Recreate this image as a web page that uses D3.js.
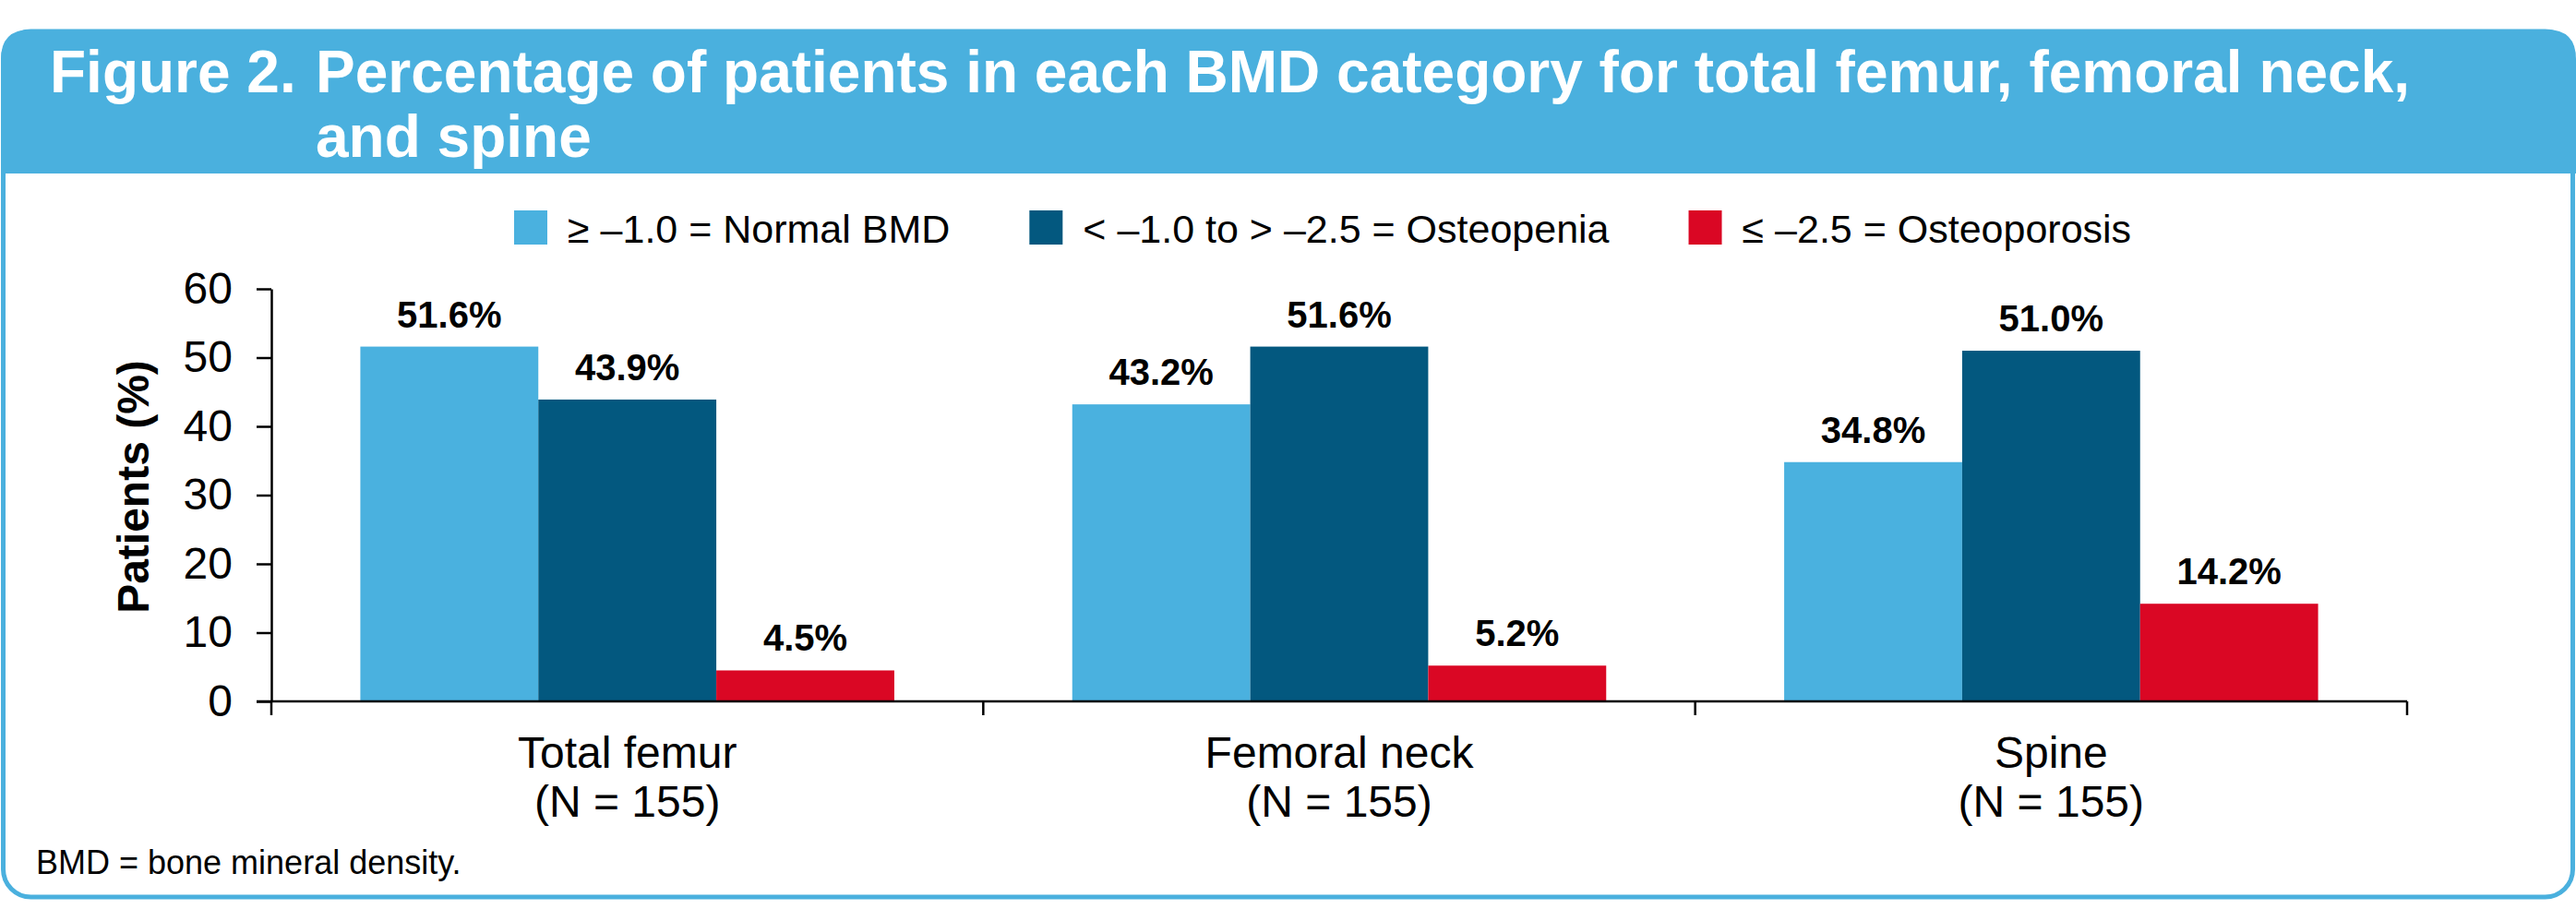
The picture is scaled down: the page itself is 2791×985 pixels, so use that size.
<!DOCTYPE html>
<html>
<head>
<meta charset="utf-8">
<script src="https://cdn.jsdelivr.net/npm/d3@7"></script>
<style>
  html, body { margin: 0; padding: 0; background: #fff; }
  svg { display: block; font-family: "Liberation Sans", Arial, sans-serif; }
</style>
</head>
<body>
<div id="chart"></div>
<script>
// Figure 2 — BMD category by site, grouped bars.
var titleLead = 'Figure 2.';
var titleLines = ['Percentage of patients in each BMD category for total femur, femoral neck,', 'and spine'];
var footnote = 'BMD = bone mineral density.';
var yTitle = 'Patients (%)';

var categories = ['Total femur', 'Femoral neck', 'Spine'];
var categoryN = ['(N = 155)', '(N = 155)', '(N = 155)'];
var seriesNames = ['\u2265 \u20131.0 = Normal BMD', '< \u20131.0 to > \u20132.5 = Osteopenia', '\u2264 \u20132.5 = Osteoporosis'];
var seriesColors = ['#4ab1df', '#03587f', '#da0724'];
var normalBMD = [51.6, 43.2, 34.8];
var osteopenia = [43.9, 51.6, 51.0];
var osteoporosis = [4.5, 5.2, 14.2];
var yTicks = [0, 10, 20, 30, 40, 50, 60];

(function () {
  var W = 2791, H = 985;
  var BLUE = '#4ab0de';
  var svg = d3.select('#chart').append('svg').attr('width', W).attr('height', H);

  // panel frame + header band
  svg.append('rect')
    .attr('x', 3.5).attr('y', 34).attr('width', W - 7).attr('height', 938)
    .attr('rx', 30).attr('ry', 30)
    .attr('fill', '#fff').attr('stroke', BLUE).attr('stroke-width', 5);
  var hx0 = 1, hx1 = W, hy0 = 32, hy1 = 188, r = 32;
  svg.append('path')
    .attr('d', 'M' + hx0 + ',' + hy1 + 'V' + (hy0 + r) +
      'Q' + hx0 + ',' + hy0 + ' ' + (hx0 + r) + ',' + hy0 +
      'H' + (hx1 - r) + 'Q' + hx1 + ',' + hy0 + ' ' + hx1 + ',' + (hy0 + r) +
      'V' + hy1 + 'Z')
    .attr('fill', BLUE);

  var title = svg.append('g').attr('fill', '#fff')
    .attr('font-size', 64).attr('font-weight', 'bold');
  title.append('text').attr('x', 54).attr('y', 100).text(titleLead);
  var rest = title.append('text').attr('x', 342).attr('y', 100);
  titleLines.forEach(function (t, i) {
    rest.append('tspan').attr('x', 342).attr('y', 100 + i * 70).text(t);
  });

  // plot area
  var left = 294, right = 2608, top = 313, bottom = 760;
  var series = [normalBMD, osteopenia, osteoporosis];

  var x0 = d3.scaleBand().domain(categories).range([left, right]).padding(0);
  var x1 = d3.scaleBand().domain(d3.range(series.length))
    .range([0, x0.bandwidth()]).paddingInner(0).paddingOuter(0.5);
  var y = d3.scaleLinear().domain([0, 60]).range([bottom, top]);

  // legend
  var legend = svg.append('g').attr('font-size', 43).attr('fill', '#000');
  var lx = 557;
  seriesNames.forEach(function (name, i) {
    legend.append('rect').attr('x', lx).attr('y', 228).attr('width', 36).attr('height', 37)
      .attr('fill', seriesColors[i]);
    var t = legend.append('text').attr('x', lx + 58).attr('y', 263).text(name);
    lx += 58 + t.node().getComputedTextLength() + 86;
  });

  // bars
  var groups = svg.append('g').selectAll('g').data(categories).enter().append('g')
    .attr('transform', function (c) { return 'translate(' + x0(c) + ',0)'; });
  groups.selectAll('rect')
    .data(function (c, ci) { return series.map(function (s, si) { return { si: si, v: s[ci] }; }); })
    .enter().append('rect')
    .attr('x', function (d) { return x1(d.si); })
    .attr('width', x1.bandwidth())
    .attr('y', function (d) { return y(d.v); })
    .attr('height', function (d) { return bottom - y(d.v); })
    .attr('fill', function (d) { return seriesColors[d.si]; });
  groups.selectAll('text.val')
    .data(function (c, ci) { return series.map(function (s, si) { return { si: si, v: s[ci] }; }); })
    .enter().append('text').attr('class', 'val')
    .attr('x', function (d) { return x1(d.si) + x1.bandwidth() / 2; })
    .attr('y', function (d) { return y(d.v) - 21; })
    .attr('text-anchor', 'middle')
    .attr('font-size', 40).attr('font-weight', 'bold')
    .text(function (d) { return d.v.toFixed(1) + '%'; });

  // y axis
  var yAxis = svg.append('g').attr('transform', 'translate(' + left + ',0)')
    .call(d3.axisLeft(y).tickValues(yTicks).tickSize(16).tickSizeOuter(0).tickPadding(26));
  yAxis.selectAll('path, line').attr('stroke', '#000').attr('stroke-width', 2.5);
  yAxis.selectAll('text').attr('font-size', 48).attr('fill', '#000')
    .attr('font-family', '"Liberation Sans", Arial, sans-serif');

  svg.append('text')
    .attr('transform', 'translate(161,' + ((top + bottom) / 2 - 9) + ') rotate(-90)')
    .attr('text-anchor', 'middle').attr('font-size', 48).attr('font-weight', 'bold')
    .text(yTitle);

  // x axis: baseline + ticks at band edges
  var xAxis = svg.append('g').attr('stroke', '#000').attr('stroke-width', 2.5);
  xAxis.append('line').attr('x1', left - 16).attr('x2', right)
    .attr('y1', bottom).attr('y2', bottom);
  var edges = categories.map(function (c) { return x0(c); }).concat([right]);
  xAxis.selectAll('line.tick').data(edges).enter().append('line').attr('class', 'tick')
    .attr('x1', function (d) { return d; }).attr('x2', function (d) { return d; })
    .attr('y1', bottom).attr('y2', bottom + 15);

  var catG = svg.append('g').attr('font-size', 48).attr('text-anchor', 'middle');
  categories.forEach(function (c, i) {
    var cx = x0(c) + x0.bandwidth() / 2;
    catG.append('text').attr('x', cx).attr('y', 832).text(c);
    catG.append('text').attr('x', cx).attr('y', 885).text(categoryN[i]);
  });

  svg.append('text').attr('x', 39).attr('y', 947).attr('font-size', 36).text(footnote);
})();
</script>
</body>
</html>
